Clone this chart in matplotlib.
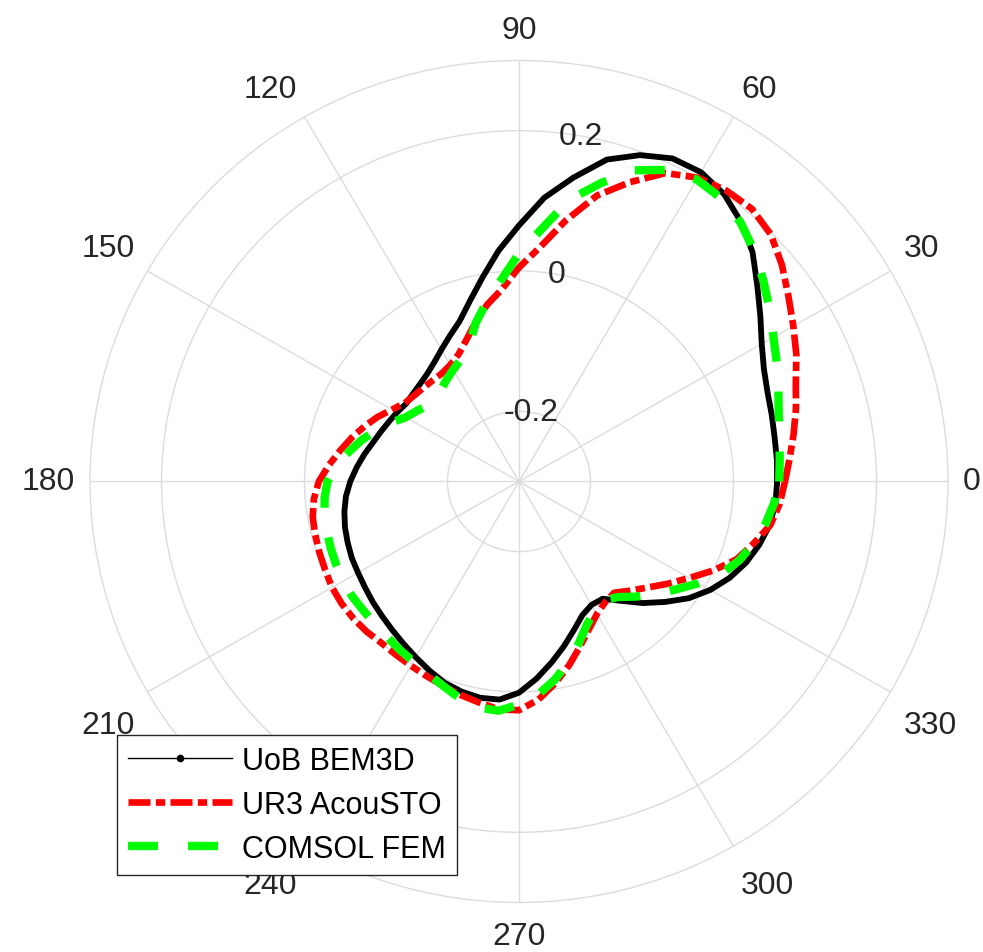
import numpy as np
import matplotlib
matplotlib.use("Agg")
import matplotlib.pyplot as plt
from matplotlib.lines import Line2D

plt.rcParams['font.family'] = ['Liberation Sans', 'DejaVu Sans']

# Directivity samples every 5 degrees (0..355)
angles_deg = np.arange(0, 360, 5)

uob_bem3d = [
    0.061, 0.062, 0.063, 0.066, 0.070, 0.078, 0.092, 0.112, 0.135, 0.162,
    0.183, 0.200, 0.209, 0.208, 0.195, 0.175, 0.140, 0.106, 0.065, 0.030,
    -0.005, -0.034, -0.057, -0.071, -0.083, -0.093, -0.100, -0.104, -0.106, -0.107,
    -0.103, -0.099, -0.094, -0.088, -0.080, -0.072, -0.064, -0.057, -0.052, -0.048,
    -0.045, -0.042, -0.040, -0.037, -0.033, -0.029, -0.024, -0.018, -0.011, -0.003,
    0.005, 0.010, 0.013, 0.012, 0.001, -0.018, -0.038, -0.057, -0.075, -0.090,
    -0.097, -0.096, -0.078, -0.055, -0.033, -0.010, 0.009, 0.025, 0.038, 0.048,
    0.056, 0.060,
]

ur3_acousto = [
    0.072, 0.080, 0.090, 0.101, 0.112, 0.128, 0.143, 0.160, 0.180, 0.198,
    0.207, 0.206, 0.200, 0.185, 0.154, 0.122, 0.078, 0.035, 0.005, -0.025,
    -0.044, -0.065, -0.085, -0.100, -0.108, -0.112, -0.112, -0.111, -0.109, -0.105,
    -0.095, -0.082, -0.070, -0.058, -0.046, -0.033, -0.020, -0.012, -0.007, -0.005,
    -0.003, -0.001, 0.002, 0.003, 0.003, 0.002, 0.000, 0.001, 0.003, 0.006,
    0.010, 0.015, 0.020, 0.026, 0.026, 0.012, -0.008, -0.029, -0.050, -0.068,
    -0.082, -0.090, -0.093, -0.080, -0.065, -0.046, -0.025, 0.000, 0.024, 0.040,
    0.057, 0.066,
]

comsol_fem = [
    0.064, 0.066, 0.070, 0.076, 0.086, 0.098, 0.111, 0.128, 0.146, 0.165,
    0.182, 0.193, 0.197, 0.190, 0.172, 0.140, 0.108, 0.061, 0.025, -0.012,
    -0.040, -0.066, -0.095, -0.108, -0.116, -0.123, -0.130, -0.134, -0.132, -0.125,
    -0.117, -0.102, -0.087, -0.072, -0.058, -0.043, -0.032, -0.027, -0.024, -0.022,
    -0.020, -0.018, -0.016, -0.015, -0.015, -0.014, -0.012, -0.008, -0.004, 0.002,
    0.010, 0.020, 0.027, 0.028, 0.018, 0.005, -0.013, -0.033, -0.055, -0.075,
    -0.088, -0.093, -0.085, -0.068, -0.050, -0.032, -0.010, 0.012, 0.028, 0.040,
    0.050, 0.058,
]

series_labels = ['UoB BEM3D', 'UR3 AcouSTO', 'COMSOL FEM']
theta_ticks = [0, 30, 60, 90, 120, 150, 180, 210, 240, 270, 300, 330]
r_ticks = [-0.2, 0.0, 0.2]
r_tick_labels = ['-0.2', '0', '0.2']
r_limits = (-0.3, 0.3)


def closed(vals):
    v = np.asarray(vals, dtype=float)
    return np.append(v, v[0])


theta = np.deg2rad(np.append(angles_deg, angles_deg[0]))

fig = plt.figure(figsize=(9.83, 9.53), dpi=100)
ax = fig.add_axes([0.09156, 0.05194, 0.87284, 0.88353], projection='polar')
ax.set_aspect('auto')

grid_col = '#dcdcdc'
text_col = '#262626'

ax.plot(theta, closed(uob_bem3d), color='black', lw=4.2,
        solid_joinstyle='round', zorder=3)
ax.plot(theta, closed(ur3_acousto), color='#ff0000', lw=4.8,
        linestyle=(0, (3.3, 0.8, 1.4, 0.8)), dash_joinstyle='round', zorder=4)
ax.plot(theta, closed(comsol_fem), color='#00ff00', lw=6.0,
        linestyle=(0, (3.6, 3.6)), dash_joinstyle='round', zorder=5)

ax.set_ylim(*r_limits)
ax.set_yticks(r_ticks)
ax.set_yticklabels([])
ax.set_xticks(np.deg2rad(theta_ticks))
ax.set_xticklabels([])
ax.grid(True, color=grid_col, lw=1.0)
ax.spines['polar'].set_color(grid_col)
ax.spines['polar'].set_linewidth(1.0)
ax.tick_params(length=0)

# radial tick labels along the 80 degree direction
for r, lab in zip(r_ticks, r_tick_labels):
    ax.text(np.deg2rad(80), r, lab, ha='center', va='center', fontsize=23,
            color=text_col, zorder=2)

# angular tick labels outside the rim
gap = 10.8  # points
for a in theta_ticks:
    rad = np.deg2rad(a)
    c, s = np.cos(rad), np.sin(rad)
    ha = 'center' if abs(c) < 0.1 else ('left' if c > 0 else 'right')
    va = 'center' if abs(s) < 0.1 else ('bottom' if s > 0 else 'top')
    dx, dy = gap * c, gap * s
    if va == 'top':
        dy -= 7.5 if ha != 'center' else 2.5
    ax.annotate(str(a), xy=(rad, r_limits[1]), xytext=(dx, dy),
                textcoords='offset points', ha=ha, va=va, fontsize=23,
                color=text_col, annotation_clip=False)

handles = [
    Line2D([], [], color='black', lw=1.0, marker='.', markersize=9),
    Line2D([], [], color='#ff0000', lw=4.8, linestyle=(0, (3.3, 0.8, 1.4, 0.8))),
    Line2D([], [], color='#00ff00', lw=6.0, linestyle=(0, (3.6, 3.6))),
]
leg = fig.legend(handles, series_labels, loc='lower left',
                 bbox_to_anchor=(117 / 983, 1 - 876 / 953), borderaxespad=0,
                 fontsize=22, frameon=True, fancybox=False, framealpha=1,
                 edgecolor='#262626', borderpad=0.36, labelspacing=0.46,
                 handlelength=3.4, handletextpad=0.33)
leg.get_frame().set_linewidth(1.0)

fig.savefig('out.png', dpi=100)
